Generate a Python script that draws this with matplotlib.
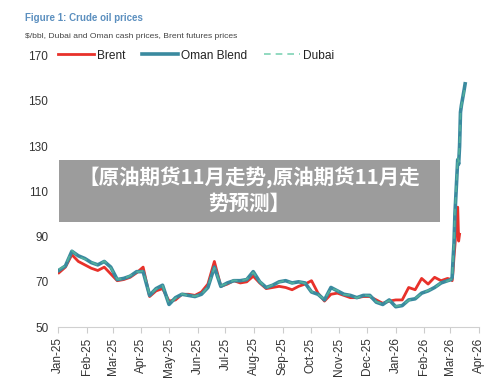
import pandas as pd
import matplotlib.pyplot as plt
import matplotlib.dates as mdates
from matplotlib.patches import Rectangle

plt.rcParams['font.family'] = ['Liberation Sans', 'DejaVu Sans']

# weekly readings, Jan 2025 - Feb 2026
weeks = pd.date_range('2025-01-02', '2026-02-26', freq='7D')
march = pd.to_datetime(['2026-03-02', '2026-03-03', '2026-03-04', '2026-03-05', '2026-03-06',
                        '2026-03-09', '2026-03-10', '2026-03-11', '2026-03-12', '2026-03-13',
                        '2026-03-16', '2026-03-17'])

brent_weekly = [74, 76.5, 82, 79, 77.5, 76, 75, 76.5, 73.5,
                70.5, 71, 72, 74,
                76.5, 63.5, 66, 67,
                61.5, 62, 64.5, 64.5, 64,
                65.5, 69, 79, 68,
                69, 70.5, 69.5, 70, 72.5,
                69.5, 67, 67.5, 68,
                67.5, 66.5, 68, 69,
                70.5, 65, 61.5, 64.5, 65,
                64, 63, 63, 63.5,
                63.5, 62, 60.5, 61.5,
                62, 62, 67.5, 66.5, 71.5,
                69, 72, 70.5, 71.5]
brent_march = [71, 70.5, 75, 81, 86, 103, 88, 91]

oman_weekly = [75.1, 77, 83.5, 81.5, 80.3, 78.5, 77.5, 79, 76.5,
               71, 71.5, 72.5, 74.5,
               74.5, 64, 67, 68.5,
               60, 63, 64.5, 64, 63.5,
               64.5, 67.5, 76.5, 68,
               69.5, 70.5, 70.5, 71, 74.5,
               70, 67.5, 68.5, 70,
               70.5, 69.5, 70, 69.5,
               65.5, 64.5, 62, 67.5, 66,
               64.5, 64, 63, 64,
               64, 61, 60, 62,
               59, 59.5, 62, 62.5, 65,
               66, 67.5, 69.5, 70.5]
oman_march = [71, 72, 80, 87, 100, 124, 122, 130, 145, 148, 155, 157.5]

dubai_weekly = [75.5, 77.2, 83.8, 81.2, 80, 78.8, 77.3, 79.2, 76.2,
                71.2, 71.3, 72.8, 74.3,
                74.8, 64.3, 66.8, 68.3,
                60.3, 62.8, 64.7, 63.8, 63.7,
                64.3, 67.8, 76.2, 68.3,
                69.3, 70.7, 70.3, 71.2, 74.2,
                70.2, 67.3, 68.7, 69.8,
                70.7, 69.3, 70.2, 69.3,
                65.7, 64.3, 62.3, 67.2, 66.2,
                64.3, 64.2, 62.8, 64.2,
                63.8, 61.2, 60.2, 61.8,
                59.2, 59.7, 61.8, 62.7, 64.8,
                66.2, 67.3, 69.7, 70.3]
dubai_march = [71.2, 72.3, 80.5, 87.5, 101, 125, 123, 131, 144, 148, 154, 157]

yticks = [50, 70, 90, 110, 130, 150, 170]

brent_dates = list(weeks) + list(march[:len(brent_march)])
oman_dates = list(weeks) + list(march)

fig = plt.figure(figsize=(5, 3.83), dpi=100)
ax = fig.add_axes([0.116, 0.146, 0.842, 0.709])

ax.plot(brent_dates, brent_weekly + brent_march, color='#e8312a', lw=2, label='Brent', zorder=2)
ax.plot(oman_dates, oman_weekly + oman_march, color='#3a8a9f', lw=2.6, label='Oman Blend', zorder=3)
ax.plot(oman_dates, dubai_weekly + dubai_march, color='#52b09c', lw=1.2, ls=(0, (4, 3)),
        label='Dubai', zorder=4)

ax.set_ylim(50, 170)
ax.set_yticks(yticks)
ax.set_xlim(pd.Timestamp('2025-01-01'), pd.Timestamp('2026-04-01'))
ax.xaxis.set_major_locator(mdates.MonthLocator())
ax.xaxis.set_major_formatter(mdates.DateFormatter('%b-%y'))
ax.tick_params(axis='x', rotation=90, labelsize=8.5, colors='#cccccc', labelcolor='#333333',
               length=4, width=0.8)
ax.tick_params(axis='y', labelsize=8.5, labelcolor='#333333', length=0, pad=7)
for s in ['top', 'right', 'left']:
    ax.spines[s].set_visible(False)
ax.spines['bottom'].set_color('#d0d0d0')

leg = ax.legend(loc='center left', bbox_to_anchor=(0.0, 1.0), ncol=3, frameon=False,
                fontsize=8.6, handlelength=3.0, handletextpad=0.25, columnspacing=1.4,
                borderaxespad=0, borderpad=0)
for t in leg.get_texts():
    t.set_color('#222222')
leg.get_lines()[2].set_color('#7fd3b5')

fig.text(0.05, 0.945, 'Figure 1: Crude oil prices', fontsize=7, fontweight='bold', color='#5b8fbf')
fig.text(0.05, 0.900, '$/bbl, Dubai and Oman cash prices, Brent futures prices', fontsize=6.1,
         color='#444444')

# grey caption banner
fig.patches.append(Rectangle((0.118, 0.42), 0.762, 0.162, transform=fig.transFigure,
                             facecolor='#9c9c9c', edgecolor='none', zorder=10))
fig.text(0.498, 0.535, '【原油期货11月走势,原油期货11月走', fontsize=14.8, fontweight='bold',
         color='white', ha='center', va='center', zorder=11,
         family=['Noto Sans CJK SC', 'DejaVu Sans'])
fig.text(0.498, 0.470, '势预测】', fontsize=14.8, fontweight='bold', color='white',
         ha='center', va='center', zorder=11, family=['Noto Sans CJK SC', 'DejaVu Sans'])

fig.savefig('out.png', dpi=100)
